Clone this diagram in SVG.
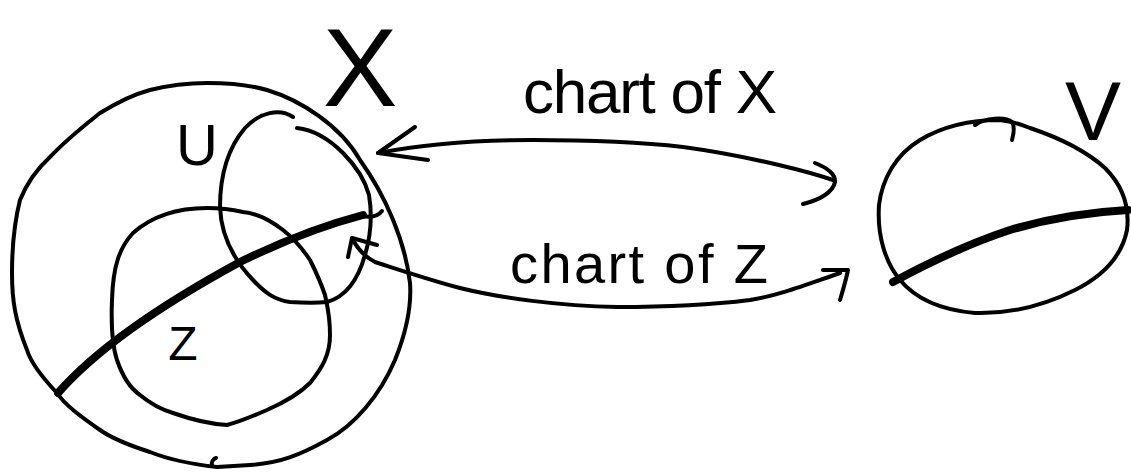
<svg xmlns="http://www.w3.org/2000/svg" width="1131" height="472" viewBox="0 0 1131 472">
<style>
.ln{fill:none;stroke:#000;stroke-width:4;stroke-linecap:round;stroke-linejoin:round}
.thick{fill:none;stroke:#000;stroke-width:8;stroke-linecap:round}
.lbl{font-family:"Liberation Sans",Arial,sans-serif;fill:#000}
</style>
<rect width="1131" height="472" fill="#fff"/>
<g id="X">
<path class="ln" d="M267,90 C300,100 340,125 360,160 C385,195 405,240 410,283 C412,310 405,335 395,360 C380,395 355,425 327,440 C300,455 280,463 250,465 L217,467 C190,464 165,458 150,452 C125,444 110,437 100,430 C80,416 65,405 57,393 C40,375 30,360 27,350 C15,320 12,300 12,273 C12,245 15,220 20,200 C28,180 38,168 50,157 C68,138 85,125 100,113 C118,102 135,94 150,90 C170,85 190,83 207,83 C230,83 250,85 267,90 Z"/>
<path class="ln" stroke-width="3" d="M212,466 C211,462 213,459 216,458"/>
<text class="lbl" x="360" y="106" font-size="112" text-anchor="middle">X</text>
</g>
<g id="U">
<path class="ln" d="M293,117 C280,108 260,112 245,128 C228,148 220,175 220,207 C221,235 232,258 253,280 C265,293 275,300 290,302 C305,303 318,303 327,302 C345,297 358,280 365,255 C371,235 372,213 369,195 C365,180 355,165 343,153 C330,140 315,130 297,128"/>
<text class="lbl" x="197" y="165" font-size="58" text-anchor="middle">U</text>
</g>
<g id="Z">
<path class="ln" d="M207,208 C175,208 150,218 133,233 C120,247 113,265 112,300 C111,325 112,345 117,360 C123,378 130,388 140,395 C152,405 163,410 173,413 C190,419 210,424 227,425 C245,420 255,415 267,410 C285,402 300,393 310,383 C322,368 330,355 330,335 C330,315 327,305 325,295 C320,280 315,270 310,260 C300,245 292,237 283,230 C270,220 255,213 243,212 C230,209 218,208 207,208 Z"/>
<text class="lbl" x="183" y="360" font-size="48" text-anchor="middle">Z</text>
</g>
<g id="curve-X">
<path class="thick" d="M58,393 C100,345 170,300 240,262 C285,240 325,225 363,215"/>
<path class="ln" stroke-width="3" d="M363,216 C372,218 378,216 382,211"/>
</g>
<g id="V">
<path class="ln" d="M1000,120 C975,120 945,125 920,140 C895,155 882,180 879,205 C877,235 885,262 900,280 C915,298 940,310 975,313 C1010,314 1045,305 1075,290 C1105,275 1122,255 1127,230 C1130,205 1122,185 1105,168 C1085,150 1060,138 1030,128 C1020,124 1010,121 1000,120 Z"/>
<path class="ln" stroke-width="3" d="M975,125 C985,118 1005,116 1012,122 C1015,127 1014,133 1012,140"/>
<path class="thick" d="M893,282 C930,262 970,243 1010,230 C1050,218 1090,212 1128,210"/>
<text class="lbl" x="1093" y="140" font-size="84" text-anchor="middle">V</text>
</g>
<g id="connectors">
<path class="ln" d="M378,153 C430,143 480,140 533,140 C590,140 640,142 683,147 C720,152 750,158 783,166 C800,170 815,174 833,180"/>
<path class="ln" d="M415,127 L378,153 L428,160"/>
<path class="ln" d="M815,163 C828,168 836,175 835,182 C833,192 820,200 803,204"/>
<path class="ln" d="M352,238 C358,250 365,257 375,262 C400,270 430,280 460,288 C500,298 560,306 617,307 C660,307 710,305 750,300 C780,295 805,285 840,273"/>
<path class="ln" d="M348,257 L352,238 L377,245"/>
<path class="ln" d="M823,270 L848,270 C846,280 843,290 840,300"/>
<text class="lbl" x="523" y="113" font-size="62" textLength="254" lengthAdjust="spacing">chart of X</text>
<text class="lbl" x="510" y="283" font-size="56" textLength="258" lengthAdjust="spacing">chart of Z</text>
</g>
</svg>
